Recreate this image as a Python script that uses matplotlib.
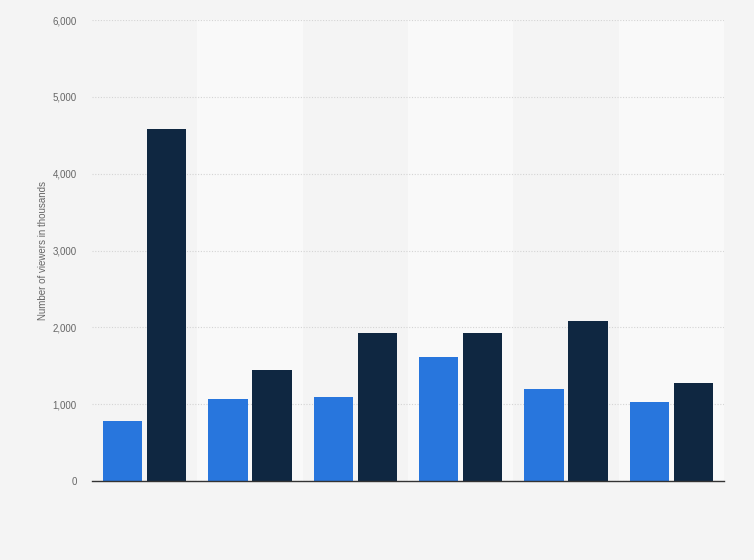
import numpy as np
import matplotlib
matplotlib.use("Agg")
import matplotlib.pyplot as plt

plt.rcParams["font.family"] = ["Liberation Sans", "DejaVu Sans"]

# viewers in thousands (no category labels shown)
groups = ["1", "2", "3", "4", "5", "6"]
series_a = [780, 1065, 1095, 1610, 1200, 1030]
series_b = [4575, 1447, 1932, 1932, 2085, 1280]

yticks = [0, 1000, 2000, 3000, 4000, 5000, 6000]
ytick_labels = ["0", "1,000", "2,000", "3,000", "4,000", "5,000", "6,000"]

bg = "#f4f4f4"
band = "#f9f9f9"
blue = "#2876dd"
navy = "#0f2741"

fig = plt.figure(figsize=(7.54, 5.6), dpi=100, facecolor=bg)
ax = fig.add_axes([92/754, 1 - 481/560, 632/754, 461/560])
ax.set_facecolor(bg)

x = np.arange(len(groups))
# lighter background band behind every second group
for i in x:
    if i % 2 == 1:
        ax.axvspan(i - 0.5, i + 0.5, color=band, zorder=0, lw=0)

w = 0.375
off = 0.209
ax.bar(x - off, series_a, width=w, color=blue, zorder=3)
ax.bar(x + off, series_b, width=w, color=navy, zorder=3)

ax.set_xlim(-0.5, len(groups) - 0.5)
ax.set_ylim(0, 6000)
ax.set_yticks(yticks)
ax.set_yticklabels(ytick_labels, fontsize=7, color="#666666")
ax.set_xticks([])
ax.tick_params(axis="y", length=0, pad=11)

ax.yaxis.grid(True, linestyle=(0, (1, 1.5)), color="#d4d4d4", linewidth=0.8, zorder=1)
ax.set_axisbelow(True)
for s in ["top", "right", "left"]:
    ax.spines[s].set_visible(False)
ax.spines["bottom"].set_color("#333333")
ax.spines["bottom"].set_linewidth(1.0)
ax.spines["bottom"].set_zorder(4)

ax.set_ylabel("Number of viewers in thousands", fontsize=7, color="#666666")
ax.yaxis.set_label_coords(-0.07, 0.5)

fig.savefig("out.png", dpi=100, facecolor=bg)
